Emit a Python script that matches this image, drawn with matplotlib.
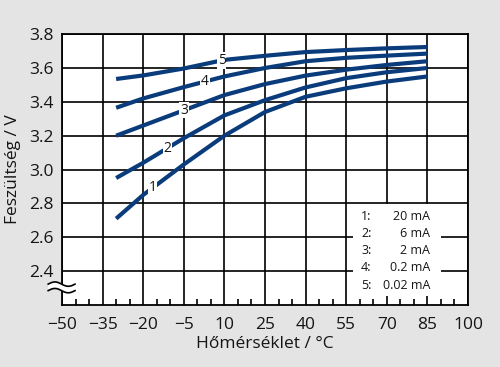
import matplotlib
import numpy as np

matplotlib.use("Agg")
import matplotlib.pyplot as plt
from matplotlib.patches import Rectangle, Polygon
from matplotlib.ticker import MultipleLocator

# temperature grid the curves were read at (°C)
temps = [-30, -20, -5, 10, 25, 40, 55, 70, 85]
# cell voltage (V) per discharge current
v_20ma = [2.71, 2.85, 3.03, 3.20, 3.34, 3.43, 3.48, 3.52, 3.55]
v_6ma = [2.95, 3.04, 3.185, 3.32, 3.41, 3.485, 3.54, 3.575, 3.60]
v_2ma = [3.20, 3.26, 3.35, 3.44, 3.505, 3.555, 3.59, 3.618, 3.64]
v_02ma = [3.365, 3.42, 3.487, 3.55, 3.60, 3.64, 3.66, 3.673, 3.685]
v_002ma = [3.535, 3.556, 3.597, 3.648, 3.672, 3.694, 3.706, 3.716, 3.724]

series = [v_20ma, v_6ma, v_2ma, v_02ma, v_002ma]
curve_ids = ["1", "2", "3", "4", "5"]
label_x = [-16.5, -11.0, -4.9, 2.8, 9.0]
legend_ids = ["1:", "2:", "3:", "4:", "5:"]
legend_vals = ["20 mA", "6 mA", "2 mA", "0.2 mA", "0.02 mA"]

x_ticks = np.arange(-50, 101, 15)
y_ticks = np.round(np.arange(2.4, 3.81, 0.2), 1)

plt.rcParams["font.family"] = ["Open Sans", "DejaVu Sans"]
line_color = "#0a3c7c"
text_color = "#151515"

fig = plt.figure(figsize=(5.0, 3.67), dpi=100)
fig.patch.set_facecolor("#e4e4e4")
ax = fig.add_axes([0.124, 0.169, 0.812, 0.738])
ax.set_facecolor("white")
ax.set_axisbelow(True)

ax.set_xlim(-50, 100)
ax.set_ylim(2.2, 3.8)
ax.set_xticks(x_ticks)
ax.set_yticks(y_ticks)
ax.set_yticklabels([f"{v:.1f}" for v in y_ticks])
ax.xaxis.set_minor_locator(MultipleLocator(5))
ax.grid(True, which="major", color="black", linewidth=1.2)
ax.tick_params(axis="both", which="major", length=0, labelsize=12.5, colors=text_color)
ax.tick_params(axis="x", which="major", pad=9)
ax.tick_params(axis="y", which="major", pad=6)
ax.tick_params(axis="x", which="minor", direction="in", length=4.5, width=1.2, color="black")
ax.tick_params(axis="y", which="minor", length=0)
for sp in ax.spines.values():
    sp.set_color("black")
    sp.set_linewidth(1.3)

for vals in series:
    ax.plot(temps, vals, color=line_color, linewidth=3.0, solid_capstyle="butt", zorder=3)

for cid, lx, vals in zip(curve_ids, label_x, series):
    ly = np.interp(lx, temps, vals)
    ax.text(lx, ly, cid, ha="center", va="center", fontsize=10, color=text_color, zorder=4,
            bbox=dict(boxstyle="square,pad=0.05", facecolor="white", edgecolor="none"))

# legend panel covering the grid
ax.add_patch(Rectangle((57.5, 2.255), 32.5, 0.54, facecolor="white", edgecolor="none", zorder=1))
rows_y = [2.724, 2.624, 2.521, 2.419, 2.318]
for y, lid, lv in zip(rows_y, legend_ids, legend_vals):
    ax.text(60.5, y, lid, ha="left", va="center", fontsize=9, color=text_color, zorder=2)
    ax.text(86.0, y, lv, ha="right", va="center", fontsize=9, color=text_color, zorder=2)

# axis break mark on the left spine
xs = np.linspace(-0.034, 0.032, 40)
wave = 0.008 * np.sin((xs - xs[0]) / (xs[-1] - xs[0]) * 2 * np.pi)
upper = 0.077 + wave
lower = 0.053 + wave
poly = np.column_stack([np.concatenate([xs, xs[::-1]]), np.concatenate([upper, lower[::-1]])])
ax.add_patch(Polygon(poly, closed=True, transform=ax.transAxes, facecolor="white",
                     edgecolor="none", clip_on=False, zorder=5))
ax.plot(xs, upper, color="black", linewidth=1.2, transform=ax.transAxes, clip_on=False, zorder=6)
ax.plot(xs, lower, color="black", linewidth=1.2, transform=ax.transAxes, clip_on=False, zorder=6)

ax.set_xlabel("Hőmérséklet / °C", fontsize=12.5, color=text_color, labelpad=2)
ax.set_ylabel("Feszültség / V", fontsize=12.5, color=text_color, labelpad=6)

fig.savefig("out.png", dpi=100, facecolor=fig.get_facecolor())
